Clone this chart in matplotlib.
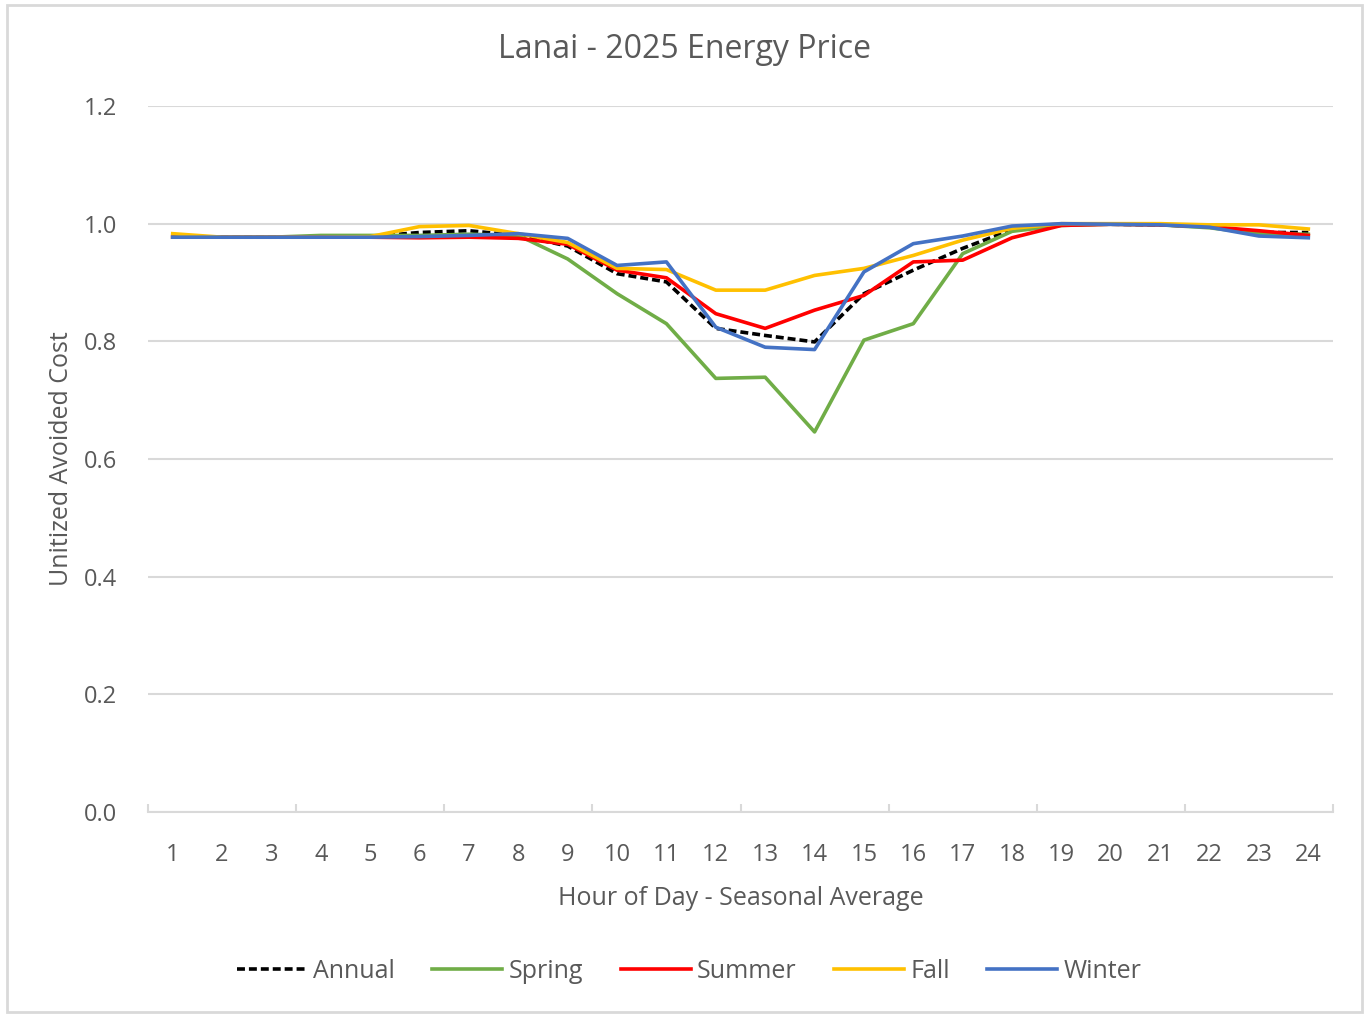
import numpy as np
import matplotlib.pyplot as plt
from matplotlib.patches import Rectangle

plt.rcParams['font.family'] = ['Open Sans', 'DejaVu Sans']

# Hour of day
hours = np.arange(1, 25)

# Unitized avoided cost by season
annual = [0.978, 0.977, 0.977, 0.977, 0.978, 0.985, 0.988, 0.980, 0.962, 0.915, 0.901, 0.822,
          0.810, 0.799, 0.881, 0.921, 0.958, 0.990, 0.999, 0.999, 0.998, 0.995, 0.985, 0.985]
spring = [0.977, 0.977, 0.977, 0.980, 0.980, 0.980, 0.982, 0.980, 0.940, 0.881, 0.830, 0.737,
          0.739, 0.646, 0.802, 0.830, 0.949, 0.987, 0.997, 0.999, 0.998, 0.993, 0.983, 0.982]
summer = [0.977, 0.977, 0.977, 0.977, 0.977, 0.976, 0.977, 0.975, 0.965, 0.921, 0.908, 0.847,
          0.822, 0.853, 0.878, 0.935, 0.938, 0.976, 0.997, 0.999, 0.998, 0.995, 0.988, 0.980]
fall = [0.983, 0.977, 0.977, 0.977, 0.978, 0.995, 0.997, 0.983, 0.968, 0.924, 0.922, 0.887,
        0.887, 0.912, 0.924, 0.946, 0.972, 0.992, 1.000, 1.000, 1.000, 0.998, 0.998, 0.991]
winter = [0.977, 0.977, 0.977, 0.977, 0.977, 0.978, 0.980, 0.983, 0.975, 0.929, 0.935, 0.824,
          0.790, 0.786, 0.918, 0.966, 0.979, 0.996, 1.000, 0.999, 0.998, 0.994, 0.979, 0.976]

text_col = '#595959'

fig = plt.figure(figsize=(13.7, 10.14), dpi=100)
fig.patches.append(Rectangle((7 / 1370, 2 / 1014), 1355 / 1370, 1007 / 1014,
                             transform=fig.transFigure, fill=False,
                             edgecolor='#d9d9d9', linewidth=2))
ax = fig.add_axes([148 / 1370, 1 - 812 / 1014, 1185 / 1370, 706 / 1014])

ax.plot(hours, annual, color='black', linestyle=(0, (2.2, 1.1)), linewidth=2.6, label='Annual')
ax.plot(hours, spring, color='#70ad47', linewidth=2.6, label='Spring')
ax.plot(hours, summer, color='#ff0000', linewidth=2.6, label='Summer')
ax.plot(hours, fall, color='#ffc000', linewidth=2.6, label='Fall')
ax.plot(hours, winter, color='#4472c4', linewidth=2.6, label='Winter')

ax.set_xlim(0.5, 24.5)
ax.set_ylim(0, 1.2)
ax.set_yticks(np.arange(0, 1.21, 0.2))
ax.set_yticklabels([f'{v:.1f}' for v in np.arange(0, 1.21, 0.2)])
ax.set_xticks(hours)
ax.set_xticks(np.arange(0.5, 25, 3), minor=True)
ax.tick_params(axis='x', which='major', length=0, pad=22, labelsize=17, labelcolor=text_col)
ax.tick_params(axis='x', which='minor', direction='in', length=6, color='#d9d9d9', width=1.5)
ax.tick_params(axis='y', length=0, pad=22, labelsize=17, labelcolor=text_col)

ax.grid(axis='y', color='#d9d9d9', linewidth=1.5)
ax.set_axisbelow(True)
for s in ['top', 'right', 'left']:
    ax.spines[s].set_visible(False)
ax.spines['bottom'].set_color('#d9d9d9')
ax.spines['bottom'].set_linewidth(1.5)

fig.text(685 / 1370, 1 - 50 / 1014, 'Lanai - 2025 Energy Price', fontsize=23,
         color=text_col, ha='center', va='center')
ax.set_xlabel('Hour of Day - Seasonal Average', fontsize=18, color=text_col, labelpad=14)
ax.set_ylabel('Unitized Avoided Cost', fontsize=18, color=text_col, labelpad=7)

fig.legend(loc='center', bbox_to_anchor=(689 / 1370, 1 - 971 / 1014), ncol=5, frameon=False,
           fontsize=18, labelcolor=text_col, handlelength=2.8, handletextpad=0.25,
           columnspacing=1.5)

fig.savefig('out.png', dpi=100)
